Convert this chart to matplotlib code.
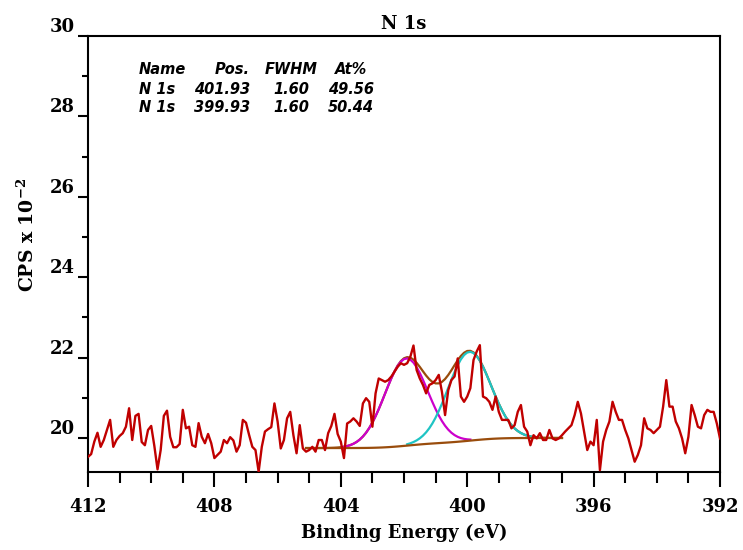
import matplotlib
matplotlib.use("Agg")
import matplotlib.pyplot as plt
from matplotlib.ticker import MultipleLocator
import numpy as np

# binding energy grid of the scan (eV), 0.1 eV step
energy = np.round(np.arange(412.0, 391.95, -0.1), 2)

counts = [
    19.53, 19.60, 19.91, 20.13, 19.78, 19.95, 20.20, 20.45, 19.78, 19.95,
    20.05, 20.12, 20.28, 20.74, 19.95, 20.55, 20.60, 19.90, 19.82, 20.20,
    20.30, 19.80, 19.22, 19.70, 20.55, 20.68, 20.03, 19.77, 19.77, 19.85,
    20.70, 20.24, 20.28, 19.82, 19.78, 20.37, 20.03, 19.87, 20.10, 19.87,
    19.50, 19.58, 19.66, 19.95, 19.87, 20.02, 19.94, 19.66, 19.82, 20.45,
    20.38, 20.07, 19.78, 19.70, 19.16, 19.78, 20.16, 20.22, 20.27, 20.86,
    20.41, 19.74, 19.95, 20.49, 20.65, 20.07, 19.62, 20.32, 19.74, 19.66,
    19.70, 19.78, 19.66, 19.95, 19.95, 19.70, 20.12, 20.30, 20.60, 20.10,
    19.91, 19.50, 20.36, 20.41, 20.49, 20.41, 20.30, 20.86, 20.99, 20.90,
    20.28, 21.11, 21.48, 21.44, 21.40, 21.44, 21.53, 21.65, 21.77, 21.86,
    21.82, 21.86, 22.02, 22.30, 21.69, 21.48, 21.32, 21.11, 21.32, 21.36,
    21.44, 21.57, 21.15, 20.57, 21.19, 21.44, 21.53, 21.98, 21.03, 20.90,
    21.03, 21.24, 21.94, 22.15, 22.31, 21.03, 20.99, 20.90, 20.70, 21.03,
    20.65, 20.45, 20.45, 20.45, 20.24, 20.32, 20.65, 20.82, 20.28, 20.16,
    19.82, 20.07, 19.99, 20.12, 19.95, 19.95, 20.20, 19.99, 19.95, 19.99,
    20.07, 20.16, 20.24, 20.32, 20.57, 20.90, 20.61, 20.16, 19.70, 19.91,
    19.82, 20.45, 19.20, 19.91, 20.20, 20.41, 20.90, 20.65, 20.45, 20.45,
    20.20, 19.99, 19.70, 19.41, 19.58, 19.82, 20.49, 20.24, 20.20, 20.12,
    20.20, 20.28, 20.78, 21.44, 20.78, 20.78, 20.41, 20.24, 19.99, 19.62,
    20.03, 20.82, 20.57, 20.28, 20.24, 20.57, 20.70, 20.65, 20.65, 20.36,
    19.99,
]

# fitted components (table in the plot)
comp_names = ["N 1s", "N 1s"]
comp_pos = [401.93, 399.93]
comp_fwhm = [1.60, 1.60]
comp_at = [49.56, 50.44]
comp_height = [2.17, 2.21]
comp_colors = ["#cc00cc", "#1fc4c4"]

# background end points (eV, value)
bg_range = [405.1, 397.0]
bg_ends = [19.75, 20.0]

data_color = "#c00000"
fit_color = "#994c0c"

serif = "DejaVu Serif"
plt.rcParams["mathtext.fontset"] = "custom"
plt.rcParams["mathtext.rm"] = "DejaVu Serif:bold"
plt.rcParams["mathtext.default"] = "rm"


def gauss(x, pos, fwhm, h):
    s = fwhm / (2 * np.sqrt(2 * np.log(2)))
    return h * np.exp(-((x - pos) ** 2) / (2 * s ** 2))


def main():
    y = np.array(counts)
    x = energy[: len(y)]

    # region of the fit and shirley-type background from the component areas
    sel = (x <= bg_range[0] + 1e-6) & (x >= bg_range[1] - 1e-6)
    xr = x[sel]
    peaks = [gauss(xr, p, w, h) for p, w, h in zip(comp_pos, comp_fwhm, comp_height)]
    total = peaks[0] + peaks[1]
    cum = np.cumsum(total[::-1])[::-1]
    frac = cum / cum[0]
    bg = bg_ends[1] + (bg_ends[0] - bg_ends[1]) * frac
    envelope = bg + total

    fig = plt.figure(figsize=(7.43, 5.5), dpi=100)
    ax = fig.add_axes([88 / 743, 1 - 472 / 550, 632 / 743, 436 / 550])

    ax.plot(xr, envelope, color=fit_color, lw=1.6, zorder=2)
    for pk, pos, col in zip(peaks, comp_pos, comp_colors):
        m = np.abs(xr - pos) <= 2.05
        ax.plot(xr[m], (bg + pk)[m], color=col, lw=1.6, zorder=3)
    ax.plot(xr, bg, color=fit_color, lw=1.6, zorder=4)
    ax.plot(x, y, color=data_color, lw=1.7, zorder=5)

    ax.set_xlim(412, 392)
    ax.set_ylim(19.154, 30)
    ax.xaxis.set_major_locator(MultipleLocator(4))
    ax.xaxis.set_minor_locator(MultipleLocator(1))
    ax.yaxis.set_major_locator(MultipleLocator(2))
    ax.yaxis.set_minor_locator(MultipleLocator(1))
    ax.tick_params(which="both", direction="out", width=1.5, colors="black")
    ax.tick_params(axis="x", which="major", length=11, pad=8)
    ax.tick_params(axis="x", which="minor", length=8)
    ax.tick_params(axis="y", which="major", length=7.5, pad=2)
    ax.tick_params(axis="y", which="minor", length=4.5)
    for s in ax.spines.values():
        s.set_linewidth(1.5)

    ax.set_xticks(np.arange(392, 413, 4))
    ax.set_xticklabels([str(v) for v in range(392, 413, 4)],
                       fontfamily=serif, fontweight="bold", fontsize=13)
    ax.set_yticks(np.arange(20, 31, 2))
    ax.set_yticklabels([str(v) for v in range(20, 31, 2)],
                       fontfamily=serif, fontweight="bold", fontsize=13)
    for lbl in ax.get_yticklabels():
        lbl.set_verticalalignment("bottom")

    ax.set_title("N 1s", fontfamily=serif, fontweight="bold", fontsize=13, pad=5)
    ax.set_xlabel("Binding Energy (eV)", fontfamily=serif, fontweight="bold",
                  fontsize=13, labelpad=5)
    fig.text(27 / 743, 1 - 235 / 550, "CPS x 10$^{-2}$", rotation=90,
             ha="center", va="center", fontfamily=serif, fontweight="bold",
             fontsize=13.5)

    # component table
    tk = dict(fontfamily="DejaVu Sans", fontweight="bold", style="oblique",
              fontsize=10.5, va="center")
    rows_y = [69, 89, 108]
    cols = [(139, "left"), (250, "right"), (291, "center"), (351, "center")]
    header = ["Name", "Pos.", "FWHM", "At%"]
    for (cx, ha), txt in zip(cols, header):
        fig.text(cx / 743, 1 - rows_y[0] / 550, txt, ha=ha, **tk)
    for r, (nm, p, w, a) in enumerate(zip(comp_names, comp_pos, comp_fwhm, comp_at)):
        vals = [nm, f"{p:.2f}", f"{w:.2f}", f"{a:.2f}"]
        for (cx, ha), txt in zip(cols, vals):
            fig.text(cx / 743, 1 - rows_y[r + 1] / 550, txt, ha=ha, **tk)

    fig.savefig("out.png", dpi=100)


if __name__ == "__main__":
    main()
